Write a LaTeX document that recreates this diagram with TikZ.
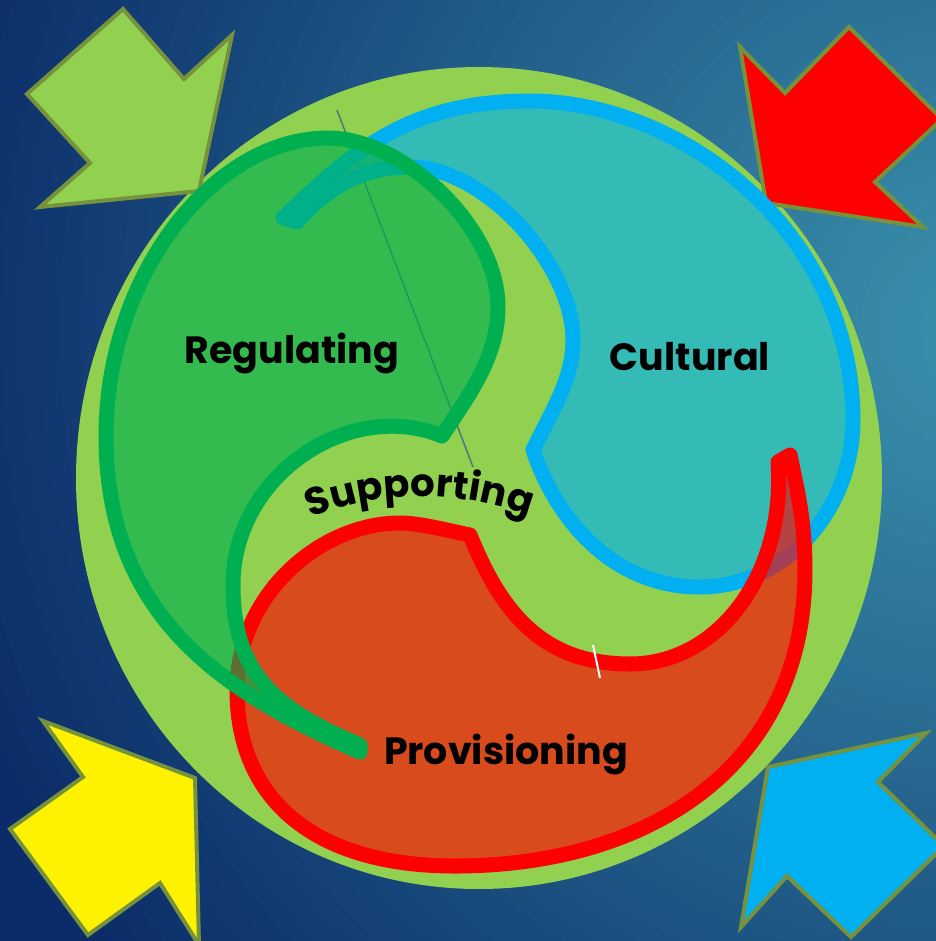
\documentclass[tikz,border=0pt]{standalone}
\usepackage{fontspec}
\setmainfont{Poppins}
\usepackage{tikz}
\usetikzlibrary{decorations.text}

\definecolor{bgdark}{HTML}{0B2C68}
\definecolor{bglight}{HTML}{3B93AD}
\definecolor{ringgreen}{HTML}{92D050}
\definecolor{reggreen}{HTML}{00B050}
\definecolor{cultblue}{HTML}{00B0F0}
\definecolor{provred}{HTML}{FF0000}
\definecolor{arrowolive}{HTML}{76923C}
\definecolor{linenavy}{HTML}{24578C}

\begin{document}
\begin{tikzpicture}
[x=0.01cm,y=-0.01cm,
 lbl/.style={font=\bfseries\fontsize{10.8}{13}\selectfont,anchor=base},
 blob/.style={line width=0.15cm,line cap=round,line join=round,fill opacity=0.64},
 inarrow/.style={draw=arrowolive,line width=0.04cm}]
\useasboundingbox (0,0) rectangle (936,941);
\clip (0,0) rectangle (936,941);
% background glow, lightest towards the right
\fill[bgdark] (0,0) rectangle (936,941);
\foreach \rad in {1080,1060,...,20}{
	\pgfmathsetmacro\pct{\rad/10.8}
	\fill[bgdark!\pct!bglight] (980,330) circle (\rad);
}

\fill[ringgreen] (479,478) ellipse (403 and 411);

% arrows coming in from the corners
\filldraw[inarrow,fill=ringgreen] (123,9) -- (184,79) -- (232,35) -- (199,191)
	-- (40,207) -- (90,163) -- (27,94) -- cycle;
\filldraw[inarrow,fill=provred] (849,27) -- (942,119) -- (875,182) -- (923,227)
	-- (766,203) -- (740,47) -- (785,93) -- cycle;
\filldraw[inarrow,fill=yellow] (43,721) -- (195,778) -- (199,945) -- (160,883)
	-- (88,935) -- (10,829) -- (83,777) -- cycle;
\filldraw[inarrow,fill=cultblue] (926,733) -- (878,782) -- (944,846) -- (851,937)
	-- (787,876) -- (741,927) -- (768,767) -- cycle;

\draw[linenavy,line width=0.015cm,opacity=0.7] (337,110) -- (473,467);

% cultural
\filldraw[blob,draw=cultblue,fill=cultblue] (283,218)
	.. controls (355,149) and (410,101) .. (530,101)
	.. controls (680,101) and (853,230) .. (853,420)
	.. controls (853,510) and (785,587) .. (700,587)
	.. controls (610,587) and (555,516) .. (533,450)
	.. controls (550,414) and (573,380) .. (573,340)
	.. controls (573,265) and (485,167) .. (410,167)
	.. controls (360,167) and (327,189) .. (297,222) -- cycle;

% provisioning
\filldraw[blob,draw=provred,fill=provred] (470,535)
	.. controls (450,531) and (420,523) .. (400,523)
	.. controls (320,523) and (237,595) .. (237,690)
	.. controls (237,800) and (315,866) .. (455,866)
	.. controls (645,866) and (805,770) .. (805,570)
	.. controls (805,520) and (797,489) .. (790,455)
	-- (778,462)
	.. controls (786,572) and (720,664) .. (630,664)
	.. controls (540,664) and (500,609) .. (470,535) -- cycle;

% regulating
\filldraw[blob,draw=reggreen,fill=reggreen] (360,752)
	.. controls (222,692) and (106,616) .. (106,436)
	.. controls (106,276) and (213,138) .. (328,138)
	.. controls (403,138) and (498,227) .. (498,307)
	.. controls (498,357) and (469,395) .. (442,436)
	.. controls (350,398) and (233,475) .. (233,585)
	.. controls (233,675) and (277,710) .. (360,745) -- cycle;

\draw[white,line width=0.02cm] (593,645) -- (600,678);

\node[lbl] (regulating) at (292,363) {Regulating};
\node[lbl] (cultural) at (690,370) {Cultural};
\node[lbl] (provisioning) at (506,764) {Provisioning};
\path[decorate,decoration={text along path,text align=center,
	text={|\bfseries\fontsize{11}{13}\selectfont|Supporting}}]
	(300,522) .. controls (370,490) and (460,487) .. (540,520);
\end{tikzpicture}
\end{document}
